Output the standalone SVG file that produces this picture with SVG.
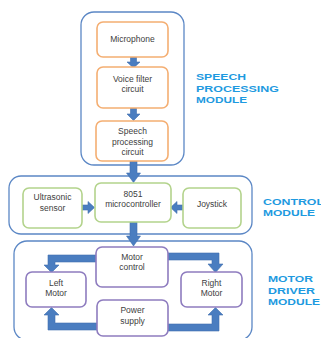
<svg xmlns="http://www.w3.org/2000/svg" width="321" height="338" viewBox="0 0 321 338">
<defs>
<style>
.cont{fill:#fff;stroke:#5b87c5;stroke-width:1.3}
.or{fill:#fff;stroke:#f4ae72;stroke-width:1.6}
.gr{fill:#fff;stroke:#b3d38c;stroke-width:1.6}
.pu{fill:#fff;stroke:#8e7cbf;stroke-width:1.6}
.t{font-family:"Liberation Sans",Arial,sans-serif;font-size:8.5px;fill:#404040;text-anchor:middle}
.lab{font-family:"Liberation Sans",Arial,sans-serif;font-size:9.5px;font-weight:bold;fill:#1e9ae0}
.arr{fill:#4a7dc0;stroke:#3f6fae;stroke-width:0.6}
</style>
</defs>
<rect width="321" height="338" fill="#fff"/>
<g id="containers">
<rect id="speech-module" class="cont" x="81" y="12" width="103" height="153" rx="13"/>
<rect id="control-module" class="cont" x="9" y="176" width="243" height="58" rx="12"/>
<rect id="motor-module" class="cont" x="14" y="241" width="238" height="99" rx="13"/>
</g>
<g id="connectors">
<path class="arr" d="M130.5,57 h6 v5 h3.5 l-6.5,6 l-6.5,-6 h3.5 z"/>
<path class="arr" d="M130.5,108 h6 v6 h3.5 l-6.5,6.5 l-6.5,-6.5 h3.5 z"/>
<path class="arr" d="M130,161 h7 v12 h3.5 l-7,9.5 l-7,-9.5 h3.5 z"/>
<path class="arr" d="M130,222 h7 v14 h3.5 l-7,10 l-7,-10 h3.5 z"/>
<path class="arr" d="M82,205 v5 h6 v3.5 l6.5,-6 l-6.5,-6 v3.5 z"/>
<path class="arr" d="M183,205 v5 h-6 v3.5 l-6.5,-6 l6.5,-6 v3.5 z"/>
<path class="arr" d="M97,255 H48 V265 H44 L51.5,272.5 L59,265 H55 V262 H97 Z"/>
<path class="arr" d="M97,330 H48 V315 H44 L51.5,307.5 L59,315 H55 V323 H97 Z"/>
<path class="arr" d="M168,253 H219 V264 H223 L215.5,272.5 L208,264 H212 V260 H168 Z"/>
<path class="arr" d="M168,331 H219 V315 H223 L215.5,307.5 L208,315 H212 V324 H168 Z"/>
</g>
<g id="microphone"><rect class="or" x="97" y="22" width="71" height="35" rx="6"/><text class="t" x="132.5" y="42">Microphone</text></g>
<g id="voice-filter"><rect class="or" x="97" y="67" width="71" height="41" rx="6"/><text class="t" x="132.5" y="82">Voice filter</text><text class="t" x="132.5" y="92">circuit</text></g>
<g id="speech-processing"><rect class="or" x="96" y="121" width="72" height="40" rx="6"/><text class="t" x="132.5" y="134">Speech</text><text class="t" x="132.5" y="145">processing</text><text class="t" x="132.5" y="155">circuit</text></g>
<g id="ultrasonic"><rect class="gr" x="23" y="188" width="59" height="40" rx="6"/><text class="t" x="52.5" y="200">Ultrasonic</text><text class="t" x="52.5" y="211">sensor</text></g>
<g id="mcu"><rect class="gr" x="95" y="183" width="76" height="39" rx="6"/><text class="t" x="133" y="197">8051</text><text class="t" x="133" y="207">microcontroller</text></g>
<g id="joystick"><rect class="gr" x="183" y="188" width="58" height="40" rx="6"/><text class="t" x="212" y="207">Joystick</text></g>
<g id="motor-control"><rect class="pu" x="96" y="247" width="72" height="40" rx="6"/><text class="t" x="132" y="260">Motor</text><text class="t" x="132" y="270">control</text></g>
<g id="left-motor"><rect class="pu" x="26" y="272" width="60" height="35" rx="6"/><text class="t" x="56" y="286">Left</text><text class="t" x="56" y="296">Motor</text></g>
<g id="right-motor"><rect class="pu" x="181" y="272" width="61" height="35" rx="6"/><text class="t" x="211.5" y="286">Right</text><text class="t" x="211.5" y="296">Motor</text></g>
<g id="power-supply"><rect class="pu" x="97" y="300" width="71" height="36" rx="6"/><text class="t" x="132.5" y="313">Power</text><text class="t" x="132.5" y="324">supply</text></g>
<g id="labels">
<text class="lab" x="196" y="80" textLength="50" lengthAdjust="spacingAndGlyphs">SPEECH</text>
<text class="lab" x="196" y="91.5" textLength="83" lengthAdjust="spacingAndGlyphs">PROCESSING</text>
<text class="lab" x="196" y="103" textLength="51" lengthAdjust="spacingAndGlyphs">MODULE</text>
<text class="lab" x="263" y="204.5" textLength="61" lengthAdjust="spacingAndGlyphs">CONTROL</text>
<text class="lab" x="263" y="215.5" textLength="52" lengthAdjust="spacingAndGlyphs">MODULE</text>
<text class="lab" x="268" y="282" textLength="45" lengthAdjust="spacingAndGlyphs">MOTOR</text>
<text class="lab" x="268" y="293.5" textLength="47" lengthAdjust="spacingAndGlyphs">DRIVER</text>
<text class="lab" x="268" y="305" textLength="52" lengthAdjust="spacingAndGlyphs">MODULE</text>
</g>
</svg>
